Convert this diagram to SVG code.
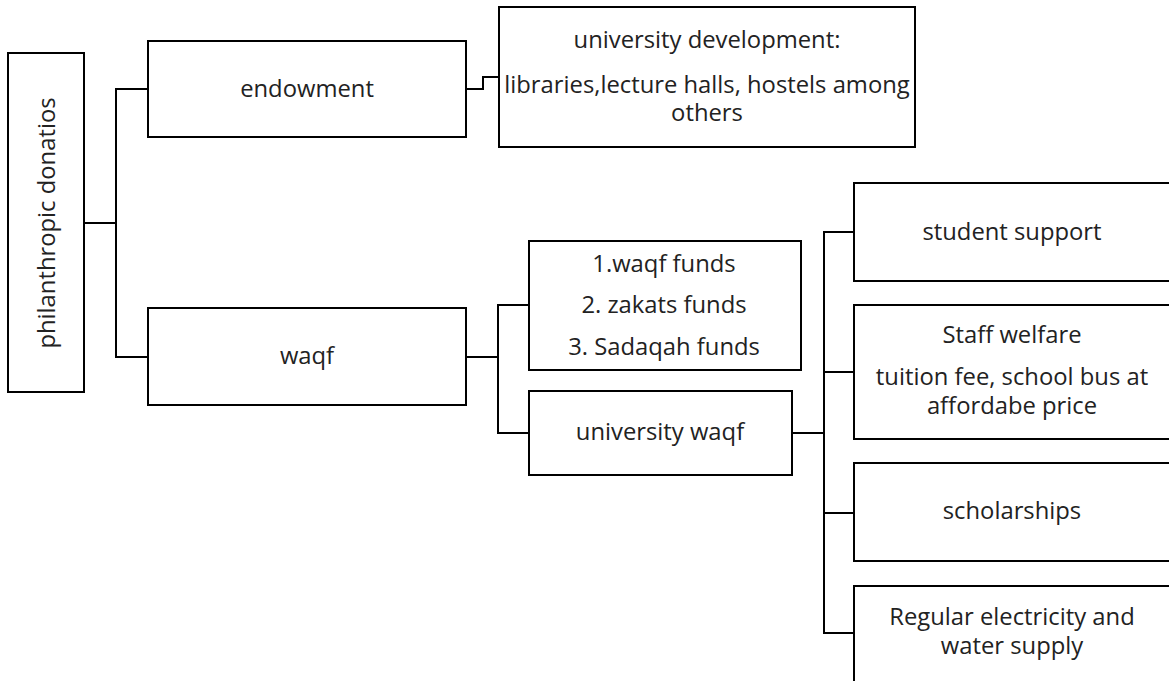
<svg xmlns="http://www.w3.org/2000/svg" width="1169" height="681" viewBox="0 0 1169 681">
<style>
rect{fill:#fff;stroke:#000;stroke-width:2}
.c{fill:none;stroke:#000;stroke-width:2}
text{font-family:"Open Sans","Noto Sans",sans-serif;font-size:23.8px;fill:#222;text-anchor:middle}
</style>
<rect width="1169" height="681" style="stroke:none"/>
<g id="connectors">
<polyline class="c" points="84,223 116,223"/>
<polyline class="c" points="148,89 116,89 116,357 148,357"/>
<polyline class="c" points="466,89 483,89 483,77 499,77"/>
<polyline class="c" points="466,357 498,357"/>
<polyline class="c" points="529,305 498,305 498,433 529,433"/>
<polyline class="c" points="792,433 824,433"/>
<polyline class="c" points="854,232 824,232 824,633 854,633"/>
<polyline class="c" points="824,372 854,372"/>
<polyline class="c" points="824,513 854,513"/>
</g>
<g id="root">
<rect x="8" y="53" width="76" height="339"/>
<text transform="translate(55,223) rotate(-90)">philanthropic donatios</text>
</g>
<g id="endowment">
<rect x="148" y="41" width="318" height="96"/>
<text x="307" y="97">endowment</text>
</g>
<g id="waqf">
<rect x="148" y="308" width="318" height="97"/>
<text x="307" y="364">waqf</text>
</g>
<g id="univ-dev">
<rect x="499" y="7" width="416" height="140"/>
<text x="707" y="48">university development:</text>
<text x="707" y="93">libraries,lecture halls, hostels among</text>
<text x="707" y="121">others</text>
</g>
<g id="funds">
<rect x="529" y="241" width="272" height="129"/>
<text x="664" y="272">1.waqf funds</text>
<text x="664" y="313">2. zakats funds</text>
<text x="664" y="355">3. Sadaqah funds</text>
</g>
<g id="univ-waqf">
<rect x="529" y="391" width="263" height="84"/>
<text x="660" y="440">university waqf</text>
</g>
<g id="student-support">
<rect x="854" y="183" width="320" height="98"/>
<text x="1012" y="240">student support</text>
</g>
<g id="staff-welfare">
<rect x="854" y="305" width="320" height="134"/>
<text x="1012" y="343">Staff welfare</text>
<text x="1012" y="385">tuition fee, school bus at</text>
<text x="1012" y="414">affordabe price</text>
</g>
<g id="scholarships">
<rect x="854" y="463" width="320" height="98"/>
<text x="1012" y="519">scholarships</text>
</g>
<g id="regular">
<rect x="854" y="586" width="320" height="110"/>
<text x="1012" y="625">Regular electricity and</text>
<text x="1012" y="654">water supply</text>
</g>
</svg>
